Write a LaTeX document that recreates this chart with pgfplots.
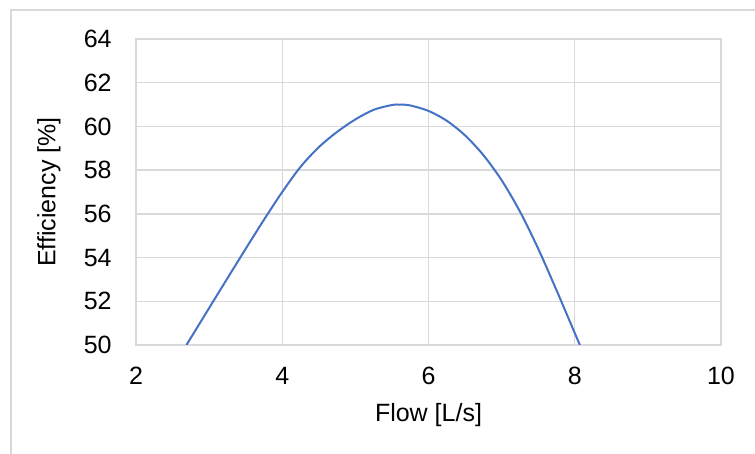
\documentclass[border=0pt]{standalone}
\usepackage{pgfplots}
\pgfplotsset{compat=1.18}
\usepackage{fontspec}
\setmainfont{Liberation Sans}
\definecolor{gridgray}{HTML}{D9D9D9}
\definecolor{framegray}{HTML}{D9D9D9}
\definecolor{lineblue}{HTML}{4472C4}
\begin{document}
\fontsize{12.5}{15}\selectfont
\begin{tikzpicture}[x=0.5pt,y=0.5pt]
\path[use as bounding box] (-136,-109) rectangle (619,345);
\draw[framegray, line width=0.8pt] (-125,-140) rectangle (650,335);
\begin{axis}[
  at={(0,0)}, anchor=south west,
  scale only axis,
  width=292.5pt, height=153pt,
  xmin=2, xmax=10, ymin=50, ymax=64,
  xtick={2,4,6,8,10}, ytick={50,52,...,64},
  grid=major,
  major grid style={gridgray, line width=0.7pt},
  axis line style={gridgray, line width=0.7pt},
  major tick length=0pt,
  tick style={draw=none},
  /pgf/number format/assume math mode=true,
  ticklabel style={font=\fontsize{12.5}{15}\selectfont, inner sep=0pt},
  yticklabel style={anchor=east, xshift=-12pt},
  xticklabel style={anchor=north, yshift=-11pt},
  xlabel={Flow [L/s]},
  ylabel={Efficiency [\%]},
  xlabel style={at={(axis description cs:0.5,0)}, anchor=north, inner sep=0pt, yshift=-29pt, font=\fontsize{12.5}{15}\selectfont},
  ylabel style={at={(axis description cs:0,0.5)}, anchor=center, inner sep=0pt, yshift=43.5pt, font=\fontsize{12.5}{15}\selectfont},
]
\addplot[lineblue, line width=1pt, smooth, tension=0.5] coordinates {
(2.69,50.00) (3.00,51.69) (3.25,53.05) (3.50,54.40) (3.75,55.73) (4.00,57.00)
(4.25,58.15) (4.50,59.05) (4.75,59.75) (5.00,60.32) (5.25,60.76) (5.50,60.98)
(5.60,61.00) (5.75,60.96) (6.00,60.71) (6.25,60.26) (6.50,59.59) (6.75,58.69)
(7.00,57.54) (7.25,56.11) (7.50,54.41) (7.75,52.51) (8.00,50.55) (8.07,50.00)
};
\end{axis}
\end{tikzpicture}
\end{document}
